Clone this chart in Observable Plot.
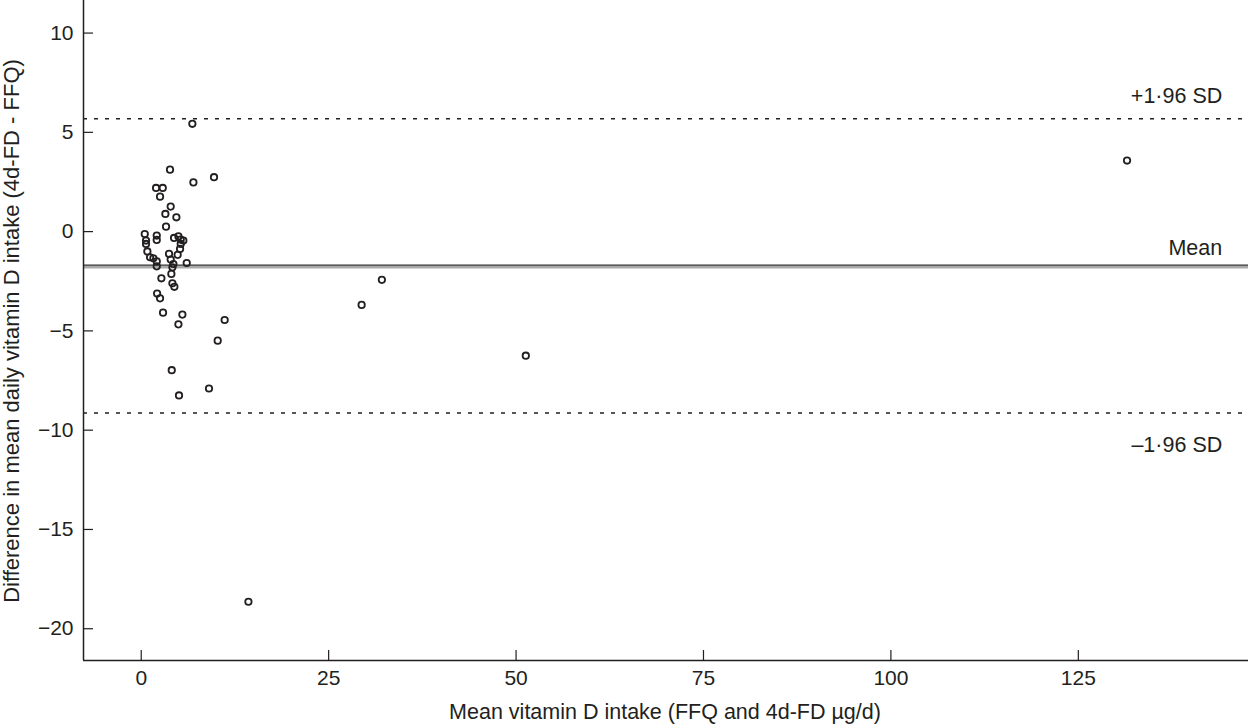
<!DOCTYPE html>
<html>
<head>
<meta charset="utf-8">
<script src="https://cdn.jsdelivr.net/npm/d3@7"></script>
<script src="https://cdn.jsdelivr.net/npm/@observablehq/plot@0.6"></script>
<style>
  html, body { margin: 0; padding: 0; background: #fff; }
  #chart { width: 1250px; height: 726px; }
  svg { font-family: "Liberation Sans", Arial, sans-serif; }
</style>
</head>
<body>
<div id="chart"></div>
<script>
// Mean vitamin D intake (x) and difference 4d-FD - FFQ (y)
const meanIntake = [
  6.82, 3.84, 6.96, 9.71, 1.98, 2.87, 2.51, 3.93, 3.22, 4.69,
  3.31, 0.47, 2.07, 2.07, 0.64, 0.64, 4.38, 4.96, 5.27, 5.62,
  5.27, 0.82, 1.18, 5.18, 4.86, 3.71, 1.62, 2.07, 2.07, 3.93,
  4.29, 4.16, 6.07, 2.69, 4.02, 4.16, 4.42, 2.12, 2.51, 2.91,
  5.49, 4.96, 11.13, 10.2, 4.07, 9.04, 5.04, 14.3, 29.4, 32.1,
  51.3, 131.5
];
const difference = [
  5.43, 3.12, 2.48, 2.74, 2.2, 2.2, 1.76, 1.26, 0.89, 0.72,
  0.25, -0.12, -0.2, -0.42, -0.45, -0.62, -0.32, -0.24, -0.4, -0.45,
  -0.62, -1.0, -1.29, -0.87, -1.17, -1.12, -1.34, -1.5, -1.75, -1.41,
  -1.63, -1.8, -1.58, -2.35, -2.13, -2.6, -2.78, -3.12, -3.36, -4.08,
  -4.18, -4.67, -4.45, -5.49, -6.98, -7.9, -8.25, -18.64, -3.69, -2.43,
  -6.25, 3.58
];
const meanDiff = -1.72;
const upperLimit = 5.68;
const lowerLimit = -9.13;
const xTicks = [0, 25, 50, 75, 100, 125];
const yTicks = [-20, -15, -10, -5, 0, 5, 10];
const xDomain = [-7.7, 147.7];
const yDomain = [-21.6, 11.64];
const refLabels = ["+1·96 SD", "Mean", "–1·96 SD"];
const refValues = [upperLimit, meanDiff, lowerLimit];

const points = meanIntake.map((x, i) => ({x, y: difference[i]}));
const labelRows = refLabels.map((t, i) => ({t, y: refValues[i]}));

const ink = "#231f20";
const chart = Plot.plot({
  width: 1250,
  height: 726,
  marginLeft: 83,
  marginRight: 2,
  marginTop: 0,
  marginBottom: 66,
  style: {fontFamily: '"Liberation Sans", Arial, sans-serif', fontSize: "21px", color: ink, background: "#fff"},
  x: {domain: xDomain},
  y: {domain: yDomain},
  marks: [
    // reference lines
    Plot.ruleY([upperLimit, lowerLimit], {stroke: ink, strokeWidth: 1.5, strokeDasharray: "4,7"}),
    Plot.ruleY([meanDiff - 0.06], {stroke: "#aaaaaa", strokeWidth: 3}),
    Plot.ruleY([meanDiff + 0.03], {stroke: "#333", strokeWidth: 1.2}),
    // axes lines
    Plot.ruleX([xDomain[0]], {stroke: ink, strokeWidth: 1.5}),
    Plot.ruleY([yDomain[0]], {stroke: ink, strokeWidth: 1.5}),
    // ticks (inward)
    Plot.axisY({ticks: yTicks, tickSize: -10, text: null, stroke: ink, strokeWidth: 1.2, label: null}),
    Plot.axisY({ticks: yTicks, tickSize: 0, tickPadding: 10, label: null, fill: ink, fontSize: 21}),
    Plot.axisX({ticks: xTicks, tickSize: -10, text: null, stroke: ink, strokeWidth: 1.2, label: null}),
    Plot.axisX({ticks: xTicks, tickSize: 0, tickPadding: 10, label: null, fill: ink, fontSize: 21}),
    // data
    Plot.dot(points, {x: "x", y: "y", r: 3.2, stroke: ink, strokeWidth: 1.8, fill: "none"}),
    // reference labels
    Plot.text(labelRows.slice(0, 1), {x: 144.2, y: "y", text: "t", textAnchor: "end", dy: -23, fill: ink, fontSize: 21.5}),
    Plot.text(labelRows.slice(1, 2), {x: 144.2, y: "y", text: "t", textAnchor: "end", dy: -18, fill: ink, fontSize: 21.5}),
    Plot.text(labelRows.slice(2, 3), {x: 144.2, y: "y", text: "t", textAnchor: "end", dy: 32, fill: ink, fontSize: 21.5})
  ]
});

// Axis titles as real text added to the svg
const svg = d3.select(chart);
svg.append("text")
  .attr("x", 665)
  .attr("y", 719)
  .attr("text-anchor", "middle")
  .attr("fill", ink)
  .style("font-size", "21.5px")
  .text("Mean vitamin D intake (FFQ and 4d-FD \u00b5g/d)");
svg.append("text")
  .attr("transform", "translate(19," + 331 + ") rotate(-90)")
  .attr("text-anchor", "middle")
  .attr("fill", ink)
  .style("font-size", "22px")
  .text("Difference in mean daily vitamin D intake (4d-FD - FFQ)");

document.getElementById("chart").appendChild(chart);
</script>
</body>
</html>
